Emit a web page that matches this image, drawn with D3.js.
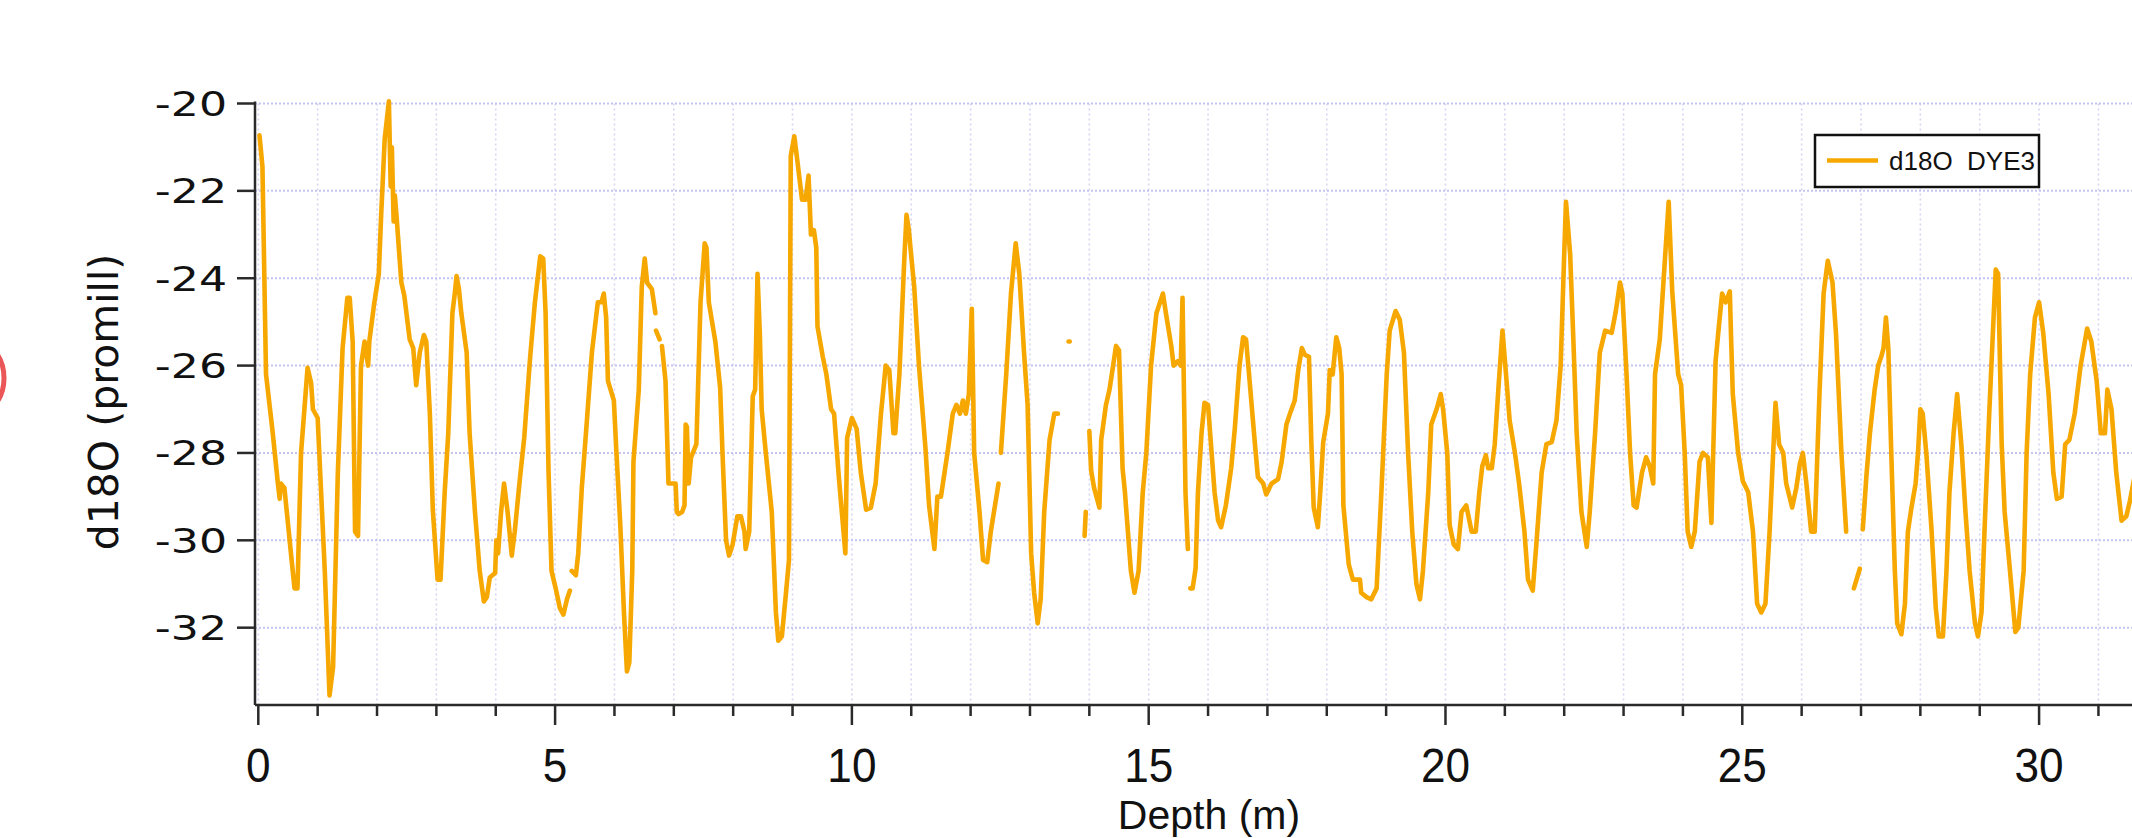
<!DOCTYPE html>
<html>
<head>
<meta charset="utf-8">
<script src="https://cdn.jsdelivr.net/npm/d3@7"></script>
<style>
  body { margin: 0; background: #fff; }
  svg { display: block; }
</style>
</head>
<body>
<svg width="2132" height="838"></svg>
<script>
// depth (m) and d18O (promill); null = gap in the record
let depth = [
  0.02, 0.07, 0.13, 0.24, 0.33, 0.36, 0.38, 0.44, 0.55, 0.61, 0.66, 0.72, 0.83, 0.89, 0.92, 1.0,
  1.12, 1.2, 1.26, 1.34, 1.42, 1.5, 1.54, 1.59, 1.63, 1.68, 1.73, 1.79, 1.85, 1.87, 1.95, 2.03,
  2.07, 2.13, 2.2, 2.23, 2.25, 2.28, 2.3, 2.33, 2.41, 2.46, 2.55, 2.61, 2.66, 2.72, 2.79, 2.83,
  2.89, 2.94, 3.02, 3.07, 3.14, 3.2, 3.27, 3.31, 3.34, 3.38, 3.42, 3.51, 3.56, 3.65, 3.73, 3.8,
  3.85, 3.9, 3.99, 4.01, 4.04, 4.09, 4.14, 4.2, 4.27, 4.32, 4.41, 4.48, 4.58, 4.66, 4.75, 4.8,
  4.84, 4.89, 4.94, 5.01, 5.08, 5.14, 5.2, 5.25, 5.26,
  5.28, 5.35, 5.39, 5.45, 5.52, 5.62, 5.72, 5.78, 5.82, 5.86, 5.89, 5.99, 6.03, 6.1, 6.16, 6.21,
  6.25, 6.3, 6.32, 6.41, 6.46, 6.51, 6.55, 6.63, 6.69, 6.695,
  6.7, 6.76, 6.78,
  6.8, 6.86, 6.91, 7.03, 7.05, 7.08, 7.14, 7.18, 7.2, 7.22, 7.25, 7.29, 7.38, 7.45, 7.52, 7.55,
  7.59, 7.7, 7.78, 7.82, 7.88, 7.93, 7.99, 8.07, 8.13, 8.19, 8.21, 8.27, 8.33, 8.37, 8.41, 8.45,
  8.48, 8.55, 8.65, 8.72, 8.76, 8.82, 8.89, 8.94, 8.97, 9.03, 9.08, 9.16, 9.22, 9.27, 9.31, 9.36,
  9.4, 9.42, 9.51, 9.57, 9.65, 9.7, 9.78, 9.89, 9.92, 10.0, 10.08, 10.15, 10.24, 10.32, 10.4, 10.49,
  10.57, 10.63, 10.7, 10.73, 10.8, 10.88, 10.92, 10.96, 10.99, 11.05, 11.13, 11.24, 11.3, 11.39, 11.44, 11.5,
  11.61, 11.7, 11.76, 11.82, 11.87, 11.92, 11.97, 12.02, 12.06, 12.15, 12.21, 12.28, 12.34, 12.47, 12.49,
  12.51, 12.6, 12.68, 12.76, 12.82, 12.9, 12.96, 13.02, 13.07, 13.13, 13.18, 13.24, 13.33, 13.41, 13.47, 13.5,
  13.65, 13.67, 13.7,
  13.92, 13.94, 13.96,
  14.0, 14.03, 14.08, 14.17, 14.2, 14.28, 14.34, 14.39, 14.45, 14.5, 14.56, 14.6, 14.7, 14.76, 14.83, 14.9,
  14.96, 15.04, 15.13, 15.24, 15.29, 15.38, 15.42, 15.49, 15.54, 15.57, 15.62, 15.66, 15.68,
  15.7, 15.74, 15.79, 15.83, 15.89, 15.94, 16.0, 16.06, 16.11, 16.17, 16.22, 16.3, 16.39, 16.45, 16.53, 16.59,
  16.64, 16.7, 16.79, 16.84, 16.93, 16.98, 17.07, 17.18, 17.24, 17.32, 17.38, 17.46, 17.52, 17.58, 17.63, 17.7,
  17.74, 17.78, 17.85, 17.89, 17.94, 18.02, 18.05, 18.1, 18.16, 18.21, 18.25, 18.28, 18.37, 18.44, 18.56, 18.58,
  18.67, 18.75, 18.84, 18.92, 19.01, 19.06, 19.16, 19.23, 19.3, 19.37, 19.44, 19.51, 19.57, 19.62, 19.71, 19.76,
  19.85, 19.92, 19.96, 20.03, 20.07, 20.14, 20.21, 20.27, 20.35, 20.44, 20.51, 20.57, 20.62, 20.68, 20.72, 20.78,
  20.83, 20.9, 20.96, 21.02, 21.08, 21.17, 21.24, 21.33, 21.39, 21.47, 21.53, 21.62, 21.7, 21.79, 21.87, 21.94,
  22.0, 22.03, 22.1, 22.15, 22.21, 22.29, 22.38, 22.43, 22.52, 22.6, 22.69, 22.8, 22.87, 22.94, 22.98, 23.05,
  23.11, 23.17, 23.22, 23.31, 23.38, 23.44, 23.5, 23.53, 23.61, 23.7, 23.76, 23.82, 23.92, 23.97, 24.03, 24.08,
  24.14, 24.2, 24.28, 24.34, 24.42, 24.48, 24.51, 24.55, 24.62, 24.66, 24.72, 24.79, 24.81, 24.84, 24.93, 25.01,
  25.1, 25.18, 25.25, 25.32, 25.39, 25.46, 25.52, 25.56, 25.62, 25.69, 25.74, 25.84, 25.91, 25.97, 26.02, 26.08,
  26.16, 26.22, 26.3, 26.37, 26.44, 26.52, 26.58, 26.67, 26.75, 26.8,
  26.88, 26.98, 27.0,
  27.03, 27.09, 27.15, 27.23, 27.29, 27.34, 27.38, 27.42, 27.46, 27.51, 27.57, 27.61, 27.68, 27.74, 27.79, 27.85,
  27.92, 27.96, 28.0, 28.04, 28.1, 28.19, 28.26, 28.31, 28.38, 28.44, 28.49, 28.56, 28.62, 28.69, 28.76, 28.83,
  28.92, 28.97, 29.03, 29.08, 29.16, 29.22, 29.27, 29.31, 29.37, 29.42, 29.51, 29.6, 29.65, 29.74, 29.79, 29.85,
  29.93, 30.0, 30.07, 30.16, 30.24, 30.3, 30.38, 30.44, 30.51, 30.6, 30.7, 30.81, 30.88, 30.97, 31.04, 31.11,
  31.15, 31.22, 31.3, 31.39, 31.47, 31.53, 31.6
];
let d18O = [
  -20.73, -21.45, -26.2, -27.5, -28.7, -29.05, -28.7, -28.8, -30.3, -31.1, -31.1, -28.0, -26.05, -26.4, -27.0, -27.2,
  -30.7, -33.55, -32.9, -28.45, -25.6, -24.45, -24.45, -25.45, -29.8, -29.9, -26.0, -25.45, -26.0, -25.45, -24.6, -23.9,
  -22.55, -20.8, -19.95, -21.9, -21.0, -22.7, -22.1, -22.6, -24.1, -24.4, -25.4, -25.6, -26.45, -25.7, -25.3, -25.45,
  -27.1, -29.3, -30.9, -30.9, -28.9, -27.55, -24.8, -24.35, -23.95, -24.25, -24.8, -25.7, -27.55, -29.35, -30.7, -31.4,
  -31.3, -30.85, -30.75, -30.0, -30.3, -29.35, -28.7, -29.35, -30.35, -29.8, -28.55, -27.65, -25.8, -24.55, -23.5, -23.55,
  -24.8, -28.45, -30.7, -31.1, -31.55, -31.7, -31.35, -31.15, null,
  -30.7, -30.8, -30.3, -28.8, -27.55, -25.7, -24.55, -24.55, -24.35, -24.9, -26.35, -26.8, -27.9, -29.7, -31.65, -33.0,
  -32.8, -30.7, -28.2, -26.55, -24.2, -23.55, -24.1, -24.25, -24.8, null,
  -25.2, -25.4, null,
  -25.55, -26.35, -28.7, -28.7, -29.35, -29.4, -29.35, -29.2, -27.35, -27.4, -28.7, -28.1, -27.8, -24.55, -23.2, -23.3,
  -24.55, -25.45, -26.5, -28.0, -30.0, -30.35, -30.1, -29.45, -29.45, -29.8, -30.2, -29.8, -26.7, -26.55, -23.9, -25.3,
  -27.0, -28.0, -29.35, -31.65, -32.3, -32.2, -31.2, -30.45, -21.2, -20.75, -21.3, -22.2, -22.2, -21.65, -23.0, -22.9,
  -23.3, -25.1, -25.8, -26.2, -27.0, -27.1, -28.55, -30.3, -27.65, -27.2, -27.45, -28.45, -29.3, -29.25, -28.7, -27.1,
  -26.0, -26.1, -27.55, -27.55, -26.2, -23.65, -22.55, -22.9, -23.35, -24.2, -26.0, -27.9, -29.2, -30.2, -29.0, -29.0,
  -28.0, -27.1, -26.9, -27.1, -26.8, -27.1, -26.65, -24.7, -28.0, -29.35, -30.45, -30.5, -29.8, -28.7, null,
  -28.0, -26.2, -24.35, -23.2, -23.9, -25.7, -26.9, -30.3, -31.2, -31.9, -31.35, -29.35, -27.7, -27.1, -27.1, null,
  -25.45, -25.45, null,
  -29.9, -29.35, null,
  -27.5, -28.4, -28.8, -29.25, -27.7, -26.9, -26.55, -26.1, -25.55, -25.65, -28.35, -28.9, -30.7, -31.2, -30.7, -28.9,
  -28.0, -26.0, -24.8, -24.35, -24.8, -25.55, -26.0, -25.9, -26.0, -24.45, -28.9, -30.2, null,
  -31.1, -31.1, -30.65, -28.9, -27.55, -26.85, -26.9, -28.0, -28.9, -29.55, -29.7, -29.2, -28.35, -27.45, -26.0, -25.35,
  -25.4, -26.35, -27.8, -28.55, -28.7, -28.95, -28.7, -28.6, -28.2, -27.35, -27.1, -26.8, -26.1, -25.6, -25.75, -25.8,
  -27.75, -29.25, -29.7, -28.9, -27.75, -27.1, -26.1, -26.2, -25.35, -25.6, -26.2, -29.2, -30.55, -30.9, -30.9, -31.2,
  -31.3, -31.35, -31.1, -28.9, -26.2, -25.2, -24.75, -24.95, -25.7, -28.0, -29.8, -31.0, -31.35, -30.7, -28.9, -27.35,
  -27.0, -26.65, -27.0, -28.0, -29.65, -30.1, -30.2, -29.35, -29.2, -29.8, -29.8, -28.9, -28.3, -28.05, -28.35, -28.35,
  -27.8, -26.35, -25.2, -26.2, -27.25, -28.0, -28.7, -29.8, -30.9, -31.15, -30.1, -28.45, -27.8, -27.75, -27.25, -26.0,
  -23.45, -22.25, -23.45, -25.25, -27.55, -29.35, -30.15, -29.35, -27.55, -25.7, -25.2, -25.25, -24.75, -24.1, -24.35, -26.2,
  -28.0, -29.2, -29.25, -28.45, -28.1, -28.3, -28.7, -26.2, -25.4, -23.5, -22.25, -24.3, -26.2, -26.45, -28.0, -29.8,
  -30.15, -29.8, -28.2, -28.0, -28.1, -29.6, -28.0, -25.9, -24.9, -24.35, -24.55, -24.3, -25.3, -26.65, -28.0, -28.65,
  -28.9, -29.8, -31.45, -31.65, -31.45, -29.8, -28.0, -26.85, -27.8, -28.0, -28.7, -29.25, -28.8, -28.25, -28.0, -28.7,
  -29.8, -29.8, -26.65, -24.35, -23.6, -24.1, -25.3, -28.0, -29.8, null,
  -31.1, -30.65, null,
  -29.75, -28.55, -27.55, -26.55, -26.0, -25.8, -25.6, -24.9, -25.6, -28.0, -30.7, -31.9, -32.15, -31.45, -29.8, -29.25,
  -28.7, -28.0, -27.0, -27.1, -28.0, -29.8, -31.55, -32.2, -32.2, -30.7, -28.9, -27.55, -26.65, -27.8, -29.35, -30.7,
  -31.9, -32.2, -31.65, -29.8, -27.1, -25.3, -23.8, -23.9, -27.8, -29.35, -30.7, -32.1, -32.0, -30.7, -28.0, -26.2,
  -24.9, -24.55, -25.25, -26.65, -28.45, -29.05, -29.0, -27.8, -27.7, -27.1, -26.0, -25.15, -25.45, -26.35, -27.55, -27.55,
  -26.55, -27.0, -28.45, -29.55, -29.45, -29.1, -28.6
];

let yTicks = [-20, -22, -24, -26, -28, -30, -32];
let xMajor = [0, 5, 10, 15, 20, 25, 30];
let xMinor = d3.range(0, 33, 1);
let seriesName = 'd18O  DYE3';

let svg = d3.select('svg');
let orange = '#f6a800';

let scaleX = d3.scaleLinear().domain([0, 32]).range([258.3, 2157.8]);
let scaleY = d3.scaleLinear().domain([-20, -33.77]).range([103.5, 705]);

let plotLeft = 255, plotRight = 2132, plotTop = 103.5, plotBottom = 705;

svg.append('rect').attr('width', 2132).attr('height', 838).attr('fill', '#fff');

// red smudge at left edge of the slide
svg.append('ellipse')
    .attr('cx', -20).attr('cy', 378).attr('rx', 24).attr('ry', 34)
    .attr('fill', 'none').attr('stroke', '#e8383c').attr('stroke-width', 5).attr('opacity', 0.85);

// grid
svg.selectAll('.vgrid')
    .data(xMinor)
    .enter()
    .append('line')
    .attr('x1', d => scaleX(d)).attr('x2', d => scaleX(d))
    .attr('y1', plotTop).attr('y2', plotBottom)
    .attr('stroke', '#d6d6f2').attr('stroke-width', 1.6).attr('stroke-dasharray', '2,3');

svg.selectAll('.hgrid')
    .data(yTicks)
    .enter()
    .append('line')
    .attr('x1', plotLeft).attr('x2', plotRight)
    .attr('y1', d => scaleY(d)).attr('y2', d => scaleY(d))
    .attr('stroke', '#c4c4ee').attr('stroke-width', 2).attr('stroke-dasharray', '2,2');

// the record
let points = depth.map((d, i) => ({depth: d, value: d18O[i]}));
let line = d3.line()
    .defined(d => d.value !== null)
    .x(d => scaleX(d.depth))
    .y(d => scaleY(d.value));

svg.append('path')
    .datum(points)
    .attr('d', line)
    .attr('fill', 'none')
    .attr('stroke', orange)
    .attr('stroke-width', 4.6)
    .attr('stroke-linejoin', 'round')
    .attr('stroke-linecap', 'round');

// axes
let axisColor = '#2a2a2a';
svg.append('line').attr('x1', plotLeft).attr('x2', plotLeft).attr('y1', plotTop - 2).attr('y2', plotBottom)
    .attr('stroke', axisColor).attr('stroke-width', 2.5);
svg.append('line').attr('x1', plotLeft).attr('x2', plotRight).attr('y1', plotBottom).attr('y2', plotBottom)
    .attr('stroke', axisColor).attr('stroke-width', 2.5);

svg.selectAll('.ytick')
    .data(yTicks)
    .enter()
    .append('line')
    .attr('x1', plotLeft - 18).attr('x2', plotLeft)
    .attr('y1', d => scaleY(d)).attr('y2', d => scaleY(d))
    .attr('stroke', axisColor).attr('stroke-width', 2.5);

svg.selectAll('.ylabel')
    .data(yTicks)
    .enter()
    .append('text')
    .attr('transform', d => 'translate(227,' + (scaleY(d) + 12.5) + ') scale(1.3,1)')
    .attr('text-anchor', 'end')
    .attr('font-family', 'DejaVu Sans')
    .attr('font-size', 34)
    .attr('fill', '#111')
    .text(d => d);

svg.selectAll('.xminor')
    .data(xMinor)
    .enter()
    .append('line')
    .attr('x1', d => scaleX(d)).attr('x2', d => scaleX(d))
    .attr('y1', plotBottom).attr('y2', d => xMajor.includes(d) ? plotBottom + 20 : plotBottom + 11)
    .attr('stroke', axisColor).attr('stroke-width', 2.5);

svg.selectAll('.xlabel')
    .data(xMajor)
    .enter()
    .append('text')
    .attr('transform', d => 'translate(' + scaleX(d) + ',782) scale(0.92,1)')
    .attr('text-anchor', 'middle')
    .attr('font-family', 'Liberation Sans')
    .attr('font-size', 48)
    .attr('fill', '#111')
    .text(d => d);

svg.append('text')
    .attr('x', 1209).attr('y', 829)
    .attr('text-anchor', 'middle')
    .attr('font-family', 'Liberation Sans')
    .attr('font-size', 41)
    .attr('fill', '#111')
    .text('Depth (m)');

svg.append('text')
    .attr('transform', 'translate(118,402) rotate(-90)')
    .attr('text-anchor', 'middle')
    .attr('font-family', 'DejaVu Sans')
    .attr('font-size', 41)
    .attr('fill', '#111')
    .text('d18O (promill)');

// legend
svg.append('rect')
    .attr('x', 1815).attr('y', 135).attr('width', 224).attr('height', 52)
    .attr('fill', '#fff').attr('stroke', '#111').attr('stroke-width', 2.5);
svg.append('line')
    .attr('x1', 1827).attr('x2', 1878).attr('y1', 160.5).attr('y2', 160.5)
    .attr('stroke', orange).attr('stroke-width', 4.6);
svg.append('text')
    .attr('x', 1889).attr('y', 170)
    .attr('font-family', 'Liberation Sans')
    .attr('font-size', 26)
    .attr('fill', '#111')
    .style('white-space', 'pre')
    .text(seriesName);
</script>
</body>
</html>
